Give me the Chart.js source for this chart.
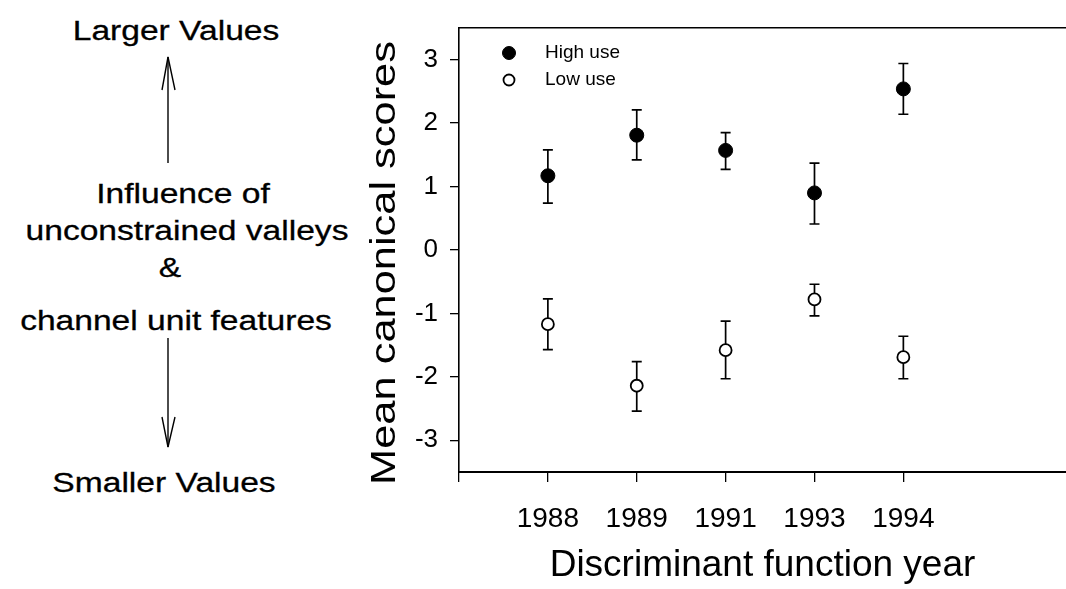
<!DOCTYPE html>
<html>
<head>
<meta charset="utf-8">
<script src="https://cdn.jsdelivr.net/npm/chart.js@4.4.1/dist/chart.umd.min.js"></script>
<style>
  html, body { margin: 0; padding: 0; background: #fff; overflow: hidden; }
  #wrap { position: relative; width: 1066px; height: 589px; overflow: hidden; }
  #notes { position: absolute; left: 0; top: 0; }
  #notes text { font-family: 'Liberation Sans', Arial, sans-serif; font-size: 28px; fill: #000; stroke: #000; stroke-width: 0.3; }
  #scoreChart { position: absolute; left: 0; top: 0; }
</style>
</head>
<body>
<div id="wrap">
  <!-- side annotation: direction of the canonical axis -->
  <svg id="notes" width="380" height="589">
    <text transform="translate(176,40) scale(1.2,1)" text-anchor="middle">Larger Values</text>
    <line x1="168" y1="163" x2="168" y2="57" stroke="#000" stroke-width="1.4"/>
    <polyline points="162,90 168,57 175,90" fill="none" stroke="#000" stroke-width="1.4"/>
    <text transform="translate(183,203) scale(1.2,1)" text-anchor="middle">Influence of</text>
    <text transform="translate(187,240) scale(1.2,1)" text-anchor="middle">unconstrained valleys</text>
    <text transform="translate(170,277) scale(1.2,1)" text-anchor="middle">&amp;</text>
    <text transform="translate(176,330) scale(1.2,1)" text-anchor="middle">channel unit features</text>
    <line x1="168" y1="338" x2="168" y2="447" stroke="#000" stroke-width="1.4"/>
    <polyline points="162,417 168,447 175,417" fill="none" stroke="#000" stroke-width="1.4"/>
    <text transform="translate(164,492) scale(1.2,1)" text-anchor="middle">Smaller Values</text>
  </svg>
  <!-- the plot runs past the right edge, so the canvas is a bit wider than the page -->
  <canvas id="scoreChart" width="1074" height="589"></canvas>
</div>
<script>
const years = ['1988', '1989', '1991', '1993', '1994'];
const yTicks = [-3, -2, -1, 0, 1, 2, 3];

// mean canonical score with lower / upper end of the error bar
const highMean = [1.17, 1.81, 1.57, 0.90, 2.54];
const highLower = [0.74, 1.42, 1.27, 0.41, 2.14];
const highUpper = [1.58, 2.21, 1.85, 1.37, 2.94];

const lowMean = [-1.17, -2.14, -1.58, -0.78, -1.69];
const lowLower = [-1.57, -2.54, -2.03, -1.04, -2.03];
const lowUpper = [-0.77, -1.76, -1.12, -0.54, -1.36];

const FONT = "'Liberation Sans', Arial, sans-serif";

function toPoints(means, lower, upper) {
    return means.map((v, i) => ({ x: i + 1, y: v, yMin: lower[i], yMax: upper[i] }));
}

// vertical error bars with short caps, drawn under the markers
const errorBars = {
    id: 'errorBars',
    beforeDatasetsDraw(chart) {
        const ctx = chart.ctx;
        const xs = chart.scales.x;
        const ys = chart.scales.y;
        ctx.save();
        ctx.strokeStyle = '#000';
        ctx.lineWidth = 1.7;
        chart.data.datasets.forEach(ds => {
            ds.data.forEach(p => {
                const px = xs.getPixelForValue(p.x);
                const top = ys.getPixelForValue(p.yMax);
                const bot = ys.getPixelForValue(p.yMin);
                ctx.beginPath();
                ctx.moveTo(px, top);
                ctx.lineTo(px, bot);
                ctx.moveTo(px - 5, top);
                ctx.lineTo(px + 5, top);
                ctx.moveTo(px - 5, bot);
                ctx.lineTo(px + 5, bot);
                ctx.stroke();
            });
        });
        ctx.restore();
    }
};

// small legend in the upper left corner of the plot
const cornerLegend = {
    id: 'cornerLegend',
    afterDraw(chart) {
        const ctx = chart.ctx;
        const area = chart.chartArea;
        ctx.save();
        ctx.font = '19px ' + FONT;
        ctx.textBaseline = 'middle';
        chart.data.datasets.forEach((ds, i) => {
            const y = area.top + 25 + i * 27;
            const x = area.left + 50;
            ctx.beginPath();
            ctx.arc(x, y, ds.pointRadius - 0.5, 0, Math.PI * 2);
            ctx.fillStyle = ds.backgroundColor;
            ctx.fill();
            ctx.lineWidth = ds.borderWidth;
            ctx.strokeStyle = ds.borderColor;
            ctx.stroke();
            ctx.fillStyle = '#000';
            ctx.fillText(ds.label, x + 36, y);
        });
        ctx.restore();
    }
};

// y axis title, drawn a little wider than the font gives
const yTitle = {
    id: 'yTitle',
    afterDraw(chart) {
        const ctx = chart.ctx;
        const ys = chart.scales.y;
        const area = chart.chartArea;
        ctx.save();
        ctx.translate(ys.left + 25, (area.top + area.bottom) / 2 + 13);
        ctx.rotate(-Math.PI / 2);
        ctx.scale(1.24, 1);
        ctx.font = '35px ' + FONT;
        ctx.fillStyle = '#000';
        ctx.textAlign = 'center';
        ctx.textBaseline = 'middle';
        ctx.fillText('Mean canonical scores', 0, 0);
        ctx.restore();
    }
};

new Chart(document.getElementById('scoreChart'), {
    type: 'scatter',
    data: {
        datasets: [{
            label: 'High use',
            data: toPoints(highMean, highLower, highUpper),
            pointRadius: 7,
            backgroundColor: '#000',
            borderColor: '#000',
            borderWidth: 1
        }, {
            label: 'Low use',
            data: toPoints(lowMean, lowLower, lowUpper),
            pointRadius: 6,
            backgroundColor: '#fff',
            borderColor: '#000',
            borderWidth: 1.8
        }]
    },
    options: {
        responsive: false,
        animation: false,
        layout: { padding: { left: 360, right: 0, top: 0, bottom: 0 } },
        plugins: {
            legend: { display: false },
            tooltip: { enabled: false }
        },
        scales: {
            x: {
                type: 'linear',
                position: 'bottom',
                min: 0,
                max: 6.83,
                afterBuildTicks: scale => { scale.ticks = [0, 1, 2, 3, 4, 5].map(v => ({ value: v })); },
                afterFit: scale => { scale.height = 117; },
                grid: { drawOnChartArea: false, drawTicks: true, tickLength: 10, color: '#000', lineWidth: 1.3 },
                border: { display: true, color: '#000', width: 2 },
                ticks: {
                    autoSkip: false,
                    maxRotation: 0,
                    padding: 20,
                    color: '#000',
                    font: { family: FONT, size: 28 },
                    callback: v => years[v - 1] || ''
                },
                title: {
                    display: true,
                    text: 'Discriminant function year',
                    color: '#000',
                    font: { family: FONT, size: 37, lineHeight: 1 },
                    padding: { top: 0, bottom: 5 }
                }
            },
            top: {
                type: 'linear',
                position: 'top',
                min: 0,
                max: 1,
                afterFit: scale => { scale.height = 28; },
                grid: { display: false },
                border: { display: true, color: '#000', width: 1.5 },
                ticks: { display: false }
            },
            y: {
                type: 'linear',
                position: 'left',
                min: -3.5,
                max: 3.5,
                afterBuildTicks: scale => { scale.ticks = yTicks.map(v => ({ value: v })); },
                afterFit: scale => { scale.width = 99; },
                grid: { drawOnChartArea: false, drawTicks: true, tickLength: 9, color: '#000', lineWidth: 1.3 },
                border: { display: true, color: '#000', width: 1.6 },
                ticks: {
                    padding: 12,
                    color: '#000',
                    font: { family: FONT, size: 26 },
                    callback: v => String(v)
                },
                title: { display: false }
            }
        }
    },
    plugins: [errorBars, cornerLegend, yTitle]
});
</script>
</body>
</html>
